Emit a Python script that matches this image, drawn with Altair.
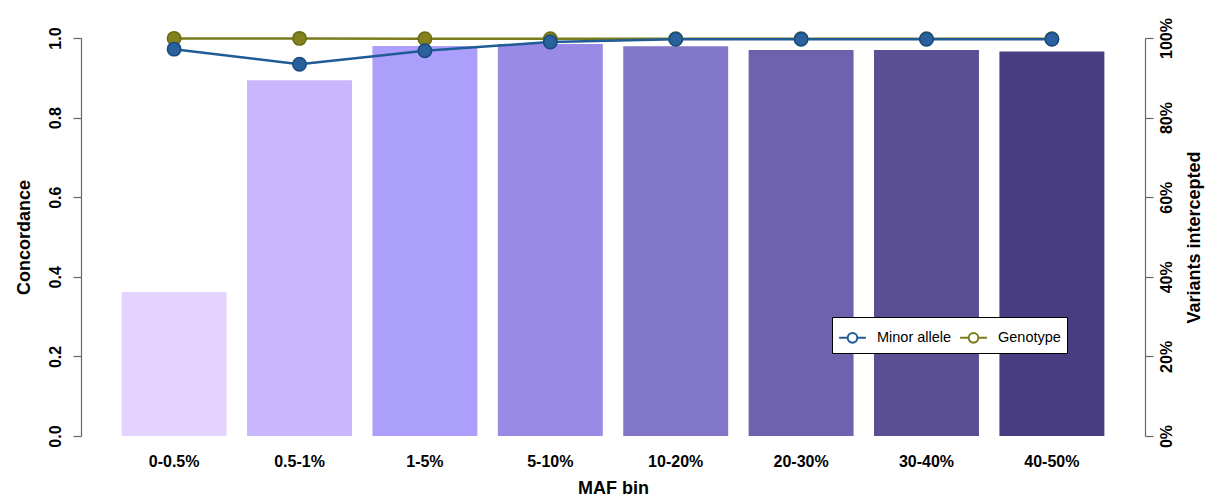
import altair as alt
import pandas as pd

bins = ["0-0.5%", "0.5-1%", "1-5%", "5-10%", "10-20%", "20-30%", "30-40%", "40-50%"]
intercepted = [0.362, 0.894, 0.980, 0.985, 0.979, 0.970, 0.970, 0.966]
minor_allele = [0.972, 0.934, 0.968, 0.990, 0.997, 0.997, 0.997, 0.997]
genotype = [0.999, 0.999, 0.998, 0.998, 0.998, 0.998, 0.998, 0.998]
bar_colors = ["#E3D3FE", "#C8B7FC", "#AC9FFC", "#998AE6", "#8276C9", "#6E62AE", "#5B4F94", "#483D80"]
series_names = ["Minor allele", "Genotype"]
series_colors = ["#1F5B95", "#7B7A1C"]

bar_df = pd.DataFrame({"bin": bins, "intercepted": intercepted})
minor_df = pd.DataFrame({"bin": bins, "value": minor_allele, "series": "Minor allele"})
geno_df = pd.DataFrame({"bin": bins, "value": genotype, "series": "Genotype"})

FONT = "Liberation Sans"

xenc = alt.X(
    "bin:N",
    sort=bins,
    scale=alt.Scale(paddingInner=0.163, paddingOuter=0.324),
    axis=alt.Axis(
        title="MAF bin", labelAngle=0, domain=False, ticks=False,
        labelPadding=17, labelFontSize=16, labelFontWeight="bold", labelFont=FONT,
        labelColor="black", titleFont=FONT, titleFontSize=18, titleFontWeight="bold",
        titlePadding=10, titleColor="black",
    ),
)

bars = alt.Chart(bar_df).mark_bar().encode(
    x=xenc,
    y=alt.Y(
        "intercepted:Q",
        scale=alt.Scale(domain=[0, 1], nice=False),
        axis=alt.Axis(
            orient="right", title="Variants intercepted", format=".0%",
            values=[0, 0.2, 0.4, 0.6, 0.8, 1.0],
            labelAngle=-90, labelAlign="center", labelBaseline="top",
            labelPadding=5, titleAngle=-90, titleBaseline="top", titlePadding=11,
            titleFont=FONT, titleFontSize=18, titleFontWeight="bold", titleColor="black",
            labelFont=FONT, labelFontSize=16, labelFontWeight="bold", labelColor="black",
        ),
    ),
    color=alt.Color("bin:N", scale=alt.Scale(domain=bins, range=bar_colors), legend=None),
)

color_scale = alt.Scale(domain=series_names, range=series_colors)
legend = alt.Legend(
    title=None, orient="none", legendX=751, legendY=279, direction="horizontal",
    strokeColor="black", fillColor="white", padding=6, cornerRadius=0,
    symbolType="M-1,0L-0.36,0M0.36,0L1,0M-0.36,0A0.36,0.36 0 1,0 0.36,0A0.36,0.36 0 1,0 -0.36,0Z",
    symbolSize=720, symbolStrokeWidth=2, symbolFillColor="white",
    labelFont=FONT, labelFontSize=14.5, labelColor="black", labelOffset=10,
    columnPadding=4,
    labelExpr="datum.label == 'Genotype' ? 'Genotype\u00a0\u00a0\u00a0\u00a0\u00a0' : datum.label",
)

yenc = alt.Y(
    "value:Q",
    scale=alt.Scale(domain=[0, 1], nice=False),
    axis=alt.Axis(
        orient="left", title="Concordance", values=[0, 0.2, 0.4, 0.6, 0.8, 1.0], format=".1f",
        labelAngle=-90, labelAlign="center", labelBaseline="bottom", labelPadding=10,
        titlePadding=14,
        titleFont=FONT, titleFontSize=18, titleFontWeight="bold", titleColor="black",
        labelFont=FONT, labelFontSize=16, labelFontWeight="bold", labelColor="black",
    ),
)

geno_line = alt.Chart(geno_df).mark_line(strokeWidth=2.5).encode(
    x=xenc, y=yenc, color=alt.Color("series:N", scale=color_scale, legend=legend)
)
geno_pts = alt.Chart(geno_df).mark_point(
    filled=True, size=180, stroke="#6B6A14", strokeWidth=1.5, fill="#83821F", opacity=1
).encode(x=xenc, y=yenc)

minor_line = alt.Chart(minor_df).mark_line(strokeWidth=2.5).encode(
    x=xenc, y=yenc, color=alt.Color("series:N", scale=color_scale, legend=legend)
)
minor_pts = alt.Chart(minor_df).mark_point(
    filled=True, size=180, stroke="#164B80", strokeWidth=1.5, fill="#2A619C", opacity=1
).encode(x=xenc, y=yenc)

lines = alt.layer(geno_line, geno_pts, minor_line, minor_pts)

chart = alt.layer(bars, lines).resolve_scale(
    y="independent", color="independent"
).properties(
    width=1064, height=398,
    autosize=alt.AutoSizeParams(type="none"),
    padding={"left": 73, "top": 30, "right": 61, "bottom": 60},
).configure_view(stroke=None).configure_axis(
    grid=False, domainColor="#666666", tickColor="#666666", tickSize=8, domainWidth=1.2, tickWidth=1.2,
)

chart.save("out.html", embed_options={"renderer": "svg", "actions": False})
